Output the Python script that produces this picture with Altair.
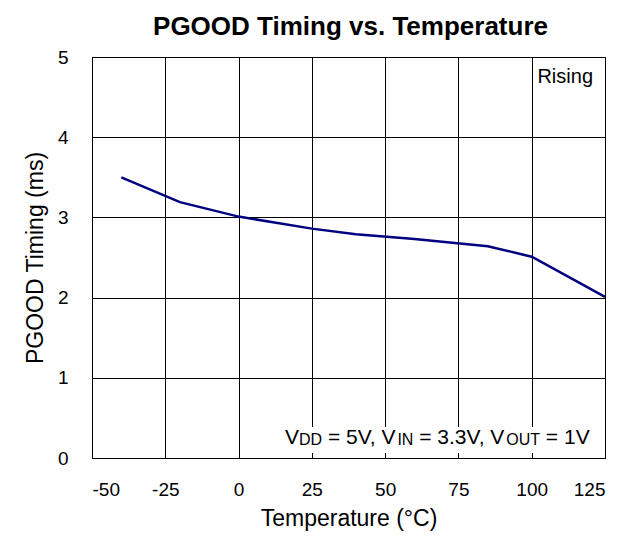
import altair as alt
import pandas as pd

# ---- data ----
temps = [-40, -20, 0, 25, 40, 60, 85, 100, 125]
timing_ms = [3.50, 3.19, 3.01, 2.86, 2.79, 2.73, 2.64, 2.51, 2.01]
x_ticks = [-50, -25, 0, 25, 50, 75, 100, 125]
y_ticks = [0, 1, 2, 3, 4, 5]

FONT = "Liberation Sans"
W, H = 513, 401

df = pd.DataFrame({"T": temps, "V": timing_ms})

line = alt.Chart(df).mark_line(color="#000080", strokeWidth=2.5).encode(
    x=alt.X("T:Q", scale=alt.Scale(domain=[-50, 125], nice=False),
            axis=alt.Axis(values=x_ticks, title="Temperature (°C)",
                          labelExpr="datum.value + ''",
                          titleX=W / 2, titleY=67, titleBaseline="alphabetic")),
    y=alt.Y("V:Q", scale=alt.Scale(domain=[0, 5], nice=False),
            axis=alt.Axis(values=y_ticks, title="PGOOD Timing (ms)",
                          titleX=-50, titleY=H / 2, titleBaseline="alphabetic",
                          titleAngle=-90, titleAlign="center")),
)

# chart title as a text mark above the plot
title = alt.Chart(pd.DataFrame({"t": ["PGOOD Timing vs. Temperature"]})).mark_text(
    font=FONT, fontSize=26, fontWeight="bold", align="center",
    baseline="alphabetic", color="black"
).encode(text="t:N", x=alt.value(W / 2 + 2), y=alt.value(-22))

# annotation: "Rising"
rising = alt.Chart(pd.DataFrame({"t": ["Rising"]})).mark_text(
    font=FONT, fontSize=20, align="right", baseline="alphabetic", color="black"
).encode(text="t:N", x=alt.value(501), y=alt.value(26))

# annotation with subscripts: V_DD = 5V, V_IN = 3.3V, V_OUT = 1V
widths = {" ": .278, "=": .584, ",": .278, ".": .278, "V": .667, "D": .722,
          "I": .278, "N": .722, "O": .778, "U": .722, "T": .611}
def tw(s, size):
    return sum(widths.get(c, .556) for c in s) * size

MAIN, SUB = 21, 16
segments = [("V", False), ("DD", True), (" = 5V, V", False), ("IN", True),
            (" = 3.3V, V", False), ("OUT", True), (" = 1V", False)]
x0, base = 193, 386.7
rows = []
cx = x0
for s, sub in segments:
    size = SUB if sub else MAIN
    lead = len(s) - len(s.lstrip(" "))
    rows.append({"t": s.strip(" "), "x": cx + tw(" " * lead, size), "sub": sub})
    cx += tw(s, size)

box = alt.Chart(pd.DataFrame({"a": [0]})).mark_rect(color="white").encode(
    x=alt.value(188), x2=alt.value(510), y=alt.value(370), y2=alt.value(396))

layers = [line, box]
for r in rows:
    layers.append(
        alt.Chart(pd.DataFrame({"t": [r["t"]]})).mark_text(
            font=FONT, fontSize=SUB if r["sub"] else MAIN, align="left",
            baseline="alphabetic", color="black"
        ).encode(text="t:N", x=alt.value(r["x"]),
                 y=alt.value(base + (1.5 if r["sub"] else 0)))
    )
layers += [rising, title]

chart = alt.layer(*layers).properties(
    width=W, height=H,
    autosize=alt.AutoSizeParams(type="none"),
    padding={"left": 84, "top": 49, "right": 11, "bottom": 73},
).configure_view(stroke="black", strokeWidth=1).configure_axis(
    grid=True, gridColor="black", gridWidth=1, gridOpacity=1,
    domain=True, domainColor="black", ticks=False,
    labelFont=FONT, labelFontSize=19, labelColor="black",
    titleFont=FONT, titleFontSize=23, titleFontWeight="normal", titleColor="black",
).configure_axisX(labelPadding=22).configure_axisY(labelPadding=24)

chart.save("out.html", embed_options={"renderer": "svg", "actions": False})
